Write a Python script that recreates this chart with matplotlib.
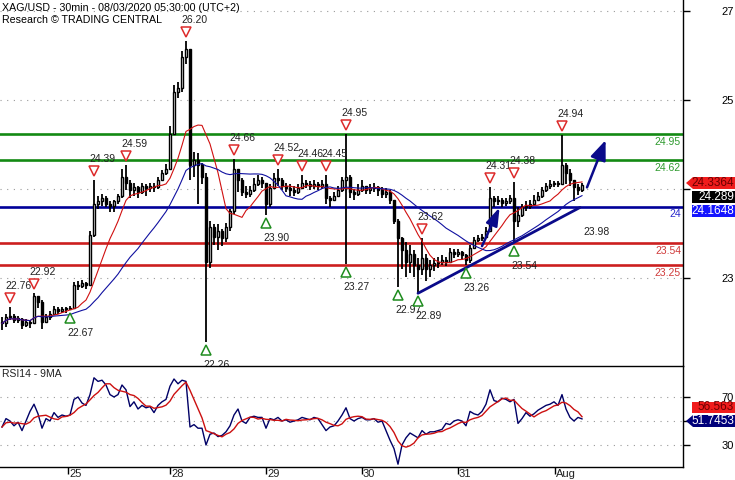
import numpy as np
import pandas as pd
import matplotlib
matplotlib.use("Agg")
import matplotlib.pyplot as plt
import matplotlib.transforms as mtransforms
from matplotlib.patches import Polygon

plt.rcParams['font.family'] = ['Liberation Sans', 'DejaVu Sans']

# ---------------- data ----------------
title_text = "XAG/USD - 30min - 08/03/2020 05:30:00 (UTC+2)"
credit_text = "Research \u00a9 TRADING CENTRAL"

close = [22.50, 22.58, 22.60, 22.55, 22.56, 22.48, 22.52, 22.50, 22.85, 22.78,
         22.52, 22.58, 22.62, 22.68, 22.66, 22.68, 22.68, 22.70, 23.00, 22.98,
         23.02, 23.00, 23.65, 24.05, 24.08, 24.12, 24.05, 24.02, 24.08, 24.15,
         24.40, 24.32, 24.22, 24.26, 24.20, 24.28, 24.25, 24.28, 24.26, 24.36,
         24.44, 24.50, 24.95, 25.50, 25.55, 25.95, 26.05, 24.55, 24.62, 24.55,
         24.40, 23.30, 23.75, 23.62, 23.70, 23.60, 23.75, 23.95, 24.50, 24.35,
         24.20, 24.18, 24.22, 24.30, 24.35, 24.32, 24.05, 24.25, 24.38, 24.35,
         24.28, 24.25, 24.22, 24.20, 24.25, 24.32, 24.30, 24.28, 24.30, 24.28,
         24.30, 24.12, 24.10, 24.15, 24.22, 24.35, 24.40, 24.20, 24.18, 24.22,
         24.28, 24.22, 24.25, 24.26, 24.22, 24.18, 24.20, 24.10, 23.82, 23.60,
         23.45, 23.30, 23.40, 23.25, 23.20, 23.35, 23.20, 23.25, 23.28, 23.30,
         23.32, 23.30, 23.42, 23.40, 23.42, 23.38, 23.32, 23.48, 23.58, 23.60,
         23.62, 23.70, 24.12, 24.08, 24.10, 24.06, 24.08, 24.12, 23.82, 23.90,
         24.00, 24.02, 24.05, 24.10, 24.15, 24.22, 24.28, 24.30, 24.30, 24.30,
         24.55, 24.45, 24.35, 24.26, 24.22, 24.29]
high = [22.58, 22.62, 22.71, 22.62, 22.60, 22.57, 22.56, 22.55, 22.89, 22.86,
        22.80, 22.62, 22.66, 22.72, 22.71, 22.71, 22.71, 22.72, 23.04, 23.05,
        23.06, 23.04, 23.70, 24.35, 24.15, 24.18, 24.15, 24.08, 24.10, 24.18,
        24.50, 24.55, 24.35, 24.32, 24.28, 24.32, 24.30, 24.32, 24.32, 24.40,
        24.48, 24.56, 25.05, 25.58, 25.62, 26.02, 26.15, 26.05, 24.72, 24.70,
        24.58, 24.45, 23.82, 23.78, 23.78, 23.72, 23.80, 23.98, 24.63, 24.50,
        24.38, 24.28, 24.28, 24.38, 24.42, 24.40, 24.32, 24.30, 24.45, 24.50,
        24.38, 24.32, 24.30, 24.28, 24.30, 24.42, 24.36, 24.34, 24.35, 24.33,
        24.36, 24.42, 24.15, 24.20, 24.28, 24.40, 24.95, 24.42, 24.24, 24.30,
        24.35, 24.28, 24.30, 24.32, 24.28, 24.26, 24.25, 24.22, 24.10, 23.85,
        23.62, 23.55, 23.52, 23.45, 23.35, 23.60, 23.40, 23.32, 23.35, 23.36,
        23.38, 23.36, 23.48, 23.46, 23.46, 23.44, 23.40, 23.52, 23.62, 23.64,
        23.66, 23.75, 24.26, 24.15, 24.15, 24.12, 24.12, 24.16, 24.33, 24.00,
        24.05, 24.08, 24.10, 24.16, 24.20, 24.26, 24.32, 24.36, 24.34, 24.34,
        24.94, 24.58, 24.50, 24.36, 24.30, 24.32]
low = [22.42, 22.45, 22.55, 22.50, 22.50, 22.43, 22.46, 22.44, 22.50, 22.70,
       22.43, 22.50, 22.55, 22.62, 22.62, 22.64, 22.64, 22.67, 22.70, 22.93,
       22.96, 22.94, 23.00, 23.62, 23.98, 24.02, 24.00, 23.94, 23.94, 24.05,
       24.12, 24.22, 24.12, 24.15, 24.12, 24.18, 24.15, 24.20, 24.20, 24.24,
       24.34, 24.42, 24.50, 24.95, 25.42, 25.50, 25.85, 24.35, 24.40, 24.05,
       24.30, 22.26, 23.22, 23.52, 23.45, 23.50, 23.55, 23.70, 23.92, 24.20,
       24.15, 24.12, 24.14, 24.20, 24.28, 24.25, 23.90, 24.00, 24.25, 24.28,
       24.22, 24.20, 24.15, 24.15, 24.18, 24.24, 24.25, 24.22, 24.24, 24.22,
       24.24, 24.05, 24.00, 24.08, 24.14, 24.20, 23.27, 24.12, 24.10, 24.15,
       24.20, 24.18, 24.18, 24.20, 24.15, 24.12, 24.12, 24.05, 23.78, 22.97,
       23.20, 23.10, 23.15, 23.10, 22.89, 23.12, 23.05, 23.10, 23.18, 23.22,
       23.26, 23.24, 23.28, 23.35, 23.36, 23.32, 23.26, 23.28, 23.46, 23.55,
       23.56, 23.60, 23.70, 24.00, 24.03, 24.00, 24.02, 24.04, 23.54, 23.75,
       23.88, 23.95, 23.98, 24.04, 24.08, 24.12, 24.20, 24.24, 24.26, 24.26,
       24.30, 24.30, 24.28, 24.08, 24.16, 24.20]
first_open = 22.52
opens = [first_open] + close[:-1]

rsi = [45, 52, 50, 46, 49, 42, 50, 58, 64, 56,
       44, 52, 50, 57, 53, 55, 54, 55, 68, 70,
       65, 63, 72, 86, 83, 84, 80, 72, 70, 72,
       80, 76, 62, 66, 60, 63, 61, 62, 57, 63,
       66, 68, 79, 85, 81, 84, 83, 45, 47, 44,
       44, 30, 39, 40, 37, 38, 41, 46, 55, 60,
       50, 48, 53, 54, 53, 53, 44, 52, 51, 53,
       50, 51, 49, 50, 51, 53, 52, 51, 53, 52,
       47, 42, 45, 46, 50, 55, 61, 52, 50, 52,
       53, 51, 51, 52, 49, 50, 42, 34, 27, 14,
       30, 36, 40, 38, 36, 42, 39, 41, 41, 42,
       43, 48, 47, 50, 51, 50, 46, 58, 56, 55,
       58, 64, 76, 67, 66, 69, 68, 66, 68, 48,
       52, 57, 54, 56, 59, 61, 63, 64, 66, 63,
       72, 60, 53, 50, 53, 51.75]

day_ticks = [16.5, 42, 66, 90, 114, 138.25]
day_labels = ['25', '28', '29', '30', '31', 'Aug']

resistance_levels = [24.95, 24.62]
resistance_labels = ['24.95', '24.62']
pivot_level = 24.00
pivot_label = '24'
support_levels = [23.54, 23.25]
support_labels = ['23.54', '23.25']

peak_bars = [2, 8, 23, 31, 46, 58, 69, 75, 81, 86, 105, 122, 128, 140]
peak_labels = ['22.76', '22.92', '24.39', '24.59', '26.20', '24.66', '24.52',
               '24.46', '24.45', '24.95', '23.62', '24.31', '24.38', '24.94']
trough_bars = [17, 51, 66, 86, 99, 104, 116, 128]
trough_labels = ['22.67', '22.26', '23.90', '23.27', '22.97', '22.89', '23.26', '23.54']

trend_x = [104, 144.5]
trend_y = [22.89, 24.00]
arrow_small = [(120.0, 23.50), (124.4, 24.00)]
arrow_big = [(146.25, 24.26), (150.9, 24.87)]
target_label = '23.98'

price_ticks = [26.541, 25.390, 24.239, 23.087]
price_tick_labels = ['27', '25', '', '23']
rsi_ticks = [70, 50, 30]
rsi_tick_labels = ['70', '', '30']

last_labels_price = ['24.3364', '24.289', '24.1648']
last_labels_rsi = ['56.563', '51.7453']

# ---------------- figure ----------------
W, H = 735, 480
fig = plt.figure(figsize=(W / 100, H / 100), dpi=100)
axw = 683 / W
ax = fig.add_axes([0, (H - 366) / H, axw, 366 / H])
axr = fig.add_axes([0, (H - 467) / H, axw, 101 / H], sharex=ax)

n = len(close)
x = np.arange(n)
o = np.array(opens); c = np.array(close); hh = np.array(high); ll = np.array(low)

ax.set_xlim(-0.5, 170.25)
ax.set_ylim(21.949, 26.684)
axr.set_ylim(11.67, 95.83)

navy = '#000099'
green = '#138a13'
red = '#cc1f1f'
grid_kw = dict(color='#9a9a9a', lw=0.8, ls=(0, (1, 5)), zorder=0)

for t in price_ticks:
    ax.axhline(t, **grid_kw)
for t in rsi_ticks:
    axr.axhline(t, **grid_kw)

# levels
for lv, lb in zip(resistance_levels, resistance_labels):
    ax.axhline(lv, color=green, lw=1.9, zorder=2)
    ax.annotate(lb, (1, lv), xycoords=('axes fraction', 'data'), xytext=(-2, -8),
                textcoords='offset pixels', ha='right', va='center', fontsize=7.5, color='#2e9a2e')
ax.axhline(pivot_level, color=navy, lw=1.9, zorder=2)
ax.annotate(pivot_label, (1, pivot_level), xycoords=('axes fraction', 'data'), xytext=(-2, -7),
            textcoords='offset pixels', ha='right', va='center', fontsize=7.5, color='#2a2acc')
for lv, lb in zip(support_levels, support_labels):
    ax.axhline(lv, color=red, lw=1.9, zorder=2)
    ax.annotate(lb, (1, lv), xycoords=('axes fraction', 'data'), xytext=(-2, -8),
                textcoords='offset pixels', ha='right', va='center', fontsize=7.5, color='#d03a3a')

# candles
ax.vlines(x, ll, hh, color='black', lw=1.3, zorder=3)
up = c >= o
bot = np.minimum(o, c)
hgt = np.maximum(np.abs(c - o), 0.015)
ax.bar(x[up], hgt[up], bottom=bot[up], width=0.72, facecolor='white', edgecolor='black', lw=1.0, zorder=3)
ax.bar(x[~up], hgt[~up], bottom=bot[~up], width=0.72, facecolor='black', edgecolor='black', lw=1.0, zorder=3)

# moving averages
cs = pd.Series(close)
ax.plot(x, cs.rolling(10, min_periods=1).mean(), color='#d01010', lw=0.8, zorder=4)
ax.plot(x, cs.rolling(25, min_periods=1).mean(), color='#1010a0', lw=0.8, zorder=4)

# trend line and arrows
ax.plot(trend_x, trend_y, color='#0a0a8a', lw=2.0, solid_capstyle='round', zorder=5)
ax.annotate('', xy=arrow_small[1], xytext=arrow_small[0],
            arrowprops=dict(arrowstyle='-|>,head_length=0.9,head_width=0.3', color='#0a0a8a',
                            lw=1.8, shrinkA=0, shrinkB=0, mutation_scale=12), zorder=6)
ax.annotate('', xy=arrow_big[1], xytext=arrow_big[0],
            arrowprops=dict(arrowstyle='-|>,head_length=1.0,head_width=0.4', color='#0a0a8a',
                            lw=1.8, shrinkA=0, shrinkB=0, mutation_scale=12), zorder=6)
ax.text(597 / 683, 1 - 232 / 366, target_label, transform=ax.transAxes, ha='center', va='center',
        fontsize=7.5, color='#222222')

# peak / trough markers
for b, lb in zip(peak_bars, peak_labels):
    tr = mtransforms.offset_copy(ax.transData, fig=fig, x=0, y=9, units='dots')
    ax.plot([b], [hh[b]], marker='v', ms=6.5, mfc='white', mec='#dd2a2a', mew=1.1, transform=tr, zorder=6)
    ax.annotate(lb, (b, hh[b]), xytext=(-5, 21), textcoords='offset pixels', ha='left', va='center',
                fontsize=7.5, color='#222222', zorder=6)
for b, lb in zip(trough_bars, trough_labels):
    tr = mtransforms.offset_copy(ax.transData, fig=fig, x=0, y=-8, units='dots')
    ax.plot([b], [ll[b]], marker='^', ms=6.5, mfc='white', mec='#1e8c1e', mew=1.1, transform=tr, zorder=6)
    t = ax.annotate(lb, (b, ll[b]), xytext=(-3, -23), textcoords='offset pixels', ha='left', va='center',
                    fontsize=7.5, color='#222222', zorder=6)
    t.set_clip_on(True)
    t.set_clip_box(ax.bbox)

# RSI
rs = pd.Series(rsi)
axr.plot(x, rs, color='#000066', lw=1.0, zorder=3)
axr.plot(x, rs.rolling(5, min_periods=1).mean(), color='#cc1010', lw=1.0, zorder=3)
axr.text(2 / 683, 1 - 8 / 101, 'RSI14 - 9MA', transform=axr.transAxes, ha='left', va='center',
         fontsize=7.5, color='#222222')

# axes styling
for a in (ax, axr):
    a.spines['left'].set_visible(False)
    a.spines['right'].set_linewidth(1.0)
    a.yaxis.tick_right()
    a.tick_params(axis='y', direction='out', length=5, width=1, pad=23, labelsize=8, colors='black')
ax.spines['top'].set_visible(False)
ax.spines['bottom'].set_visible(False)
axr.spines['top'].set_linewidth(1.0)
axr.spines['bottom'].set_linewidth(1.0)
ax.set_yticks(price_ticks, labels=price_tick_labels)
axr.set_yticks(rsi_ticks, labels=rsi_tick_labels)
ax.tick_params(axis='x', bottom=False, labelbottom=False)
axr.set_xticks(day_ticks, labels=['' for _ in day_ticks])
axr.tick_params(axis='x', direction='out', length=5, width=1)
for tk, lb in zip(day_ticks, day_labels):
    axr.annotate(lb, (tk, 0), xycoords=('data', 'axes fraction'), xytext=(1, -7),
                 textcoords='offset pixels', ha='left', va='center', fontsize=8, color='#222222',
                 annotation_clip=False)

# titles
fig.text(2 / W, 1 - 8 / H, title_text, ha='left', va='center', fontsize=7.7, color='black')
fig.text(2 / W, 1 - 20 / H, credit_text, ha='left', va='center', fontsize=7.7, color='black')

# value tags on the right
def tag(ypx, text, bg, fg, pointer, half=6):
    x0, x1 = 686, 735
    if pointer:
        pts = [(x0, ypx), (x0 + 7, ypx - half), (x1, ypx - half), (x1, ypx + half), (x0 + 7, ypx + half)]
    else:
        pts = [(x0 + 6, ypx - half), (x1, ypx - half), (x1, ypx + half), (x0 + 6, ypx + half)]
    pts = [(px / W, 1 - py / H) for px, py in pts]
    fig.patches.append(Polygon(pts, closed=True, transform=fig.transFigure, facecolor=bg,
                               edgecolor='none', zorder=5))
    fig.text(734 / W, 1 - ypx / H, text, ha='right', va='center', fontsize=8.5, color=fg, zorder=6)

tag(183, last_labels_price[0], '#f01c1c', '#6a0000', True)
tag(197, last_labels_price[1], '#000000', 'white', False)
tag(211, last_labels_price[2], '#1414ff', 'white', False)
tag(407, last_labels_rsi[0], '#f01c1c', '#6a0000', False, half=5.5)
tag(421, last_labels_rsi[1], '#00007a', 'white', True)

fig.savefig('out.png', dpi=100)
